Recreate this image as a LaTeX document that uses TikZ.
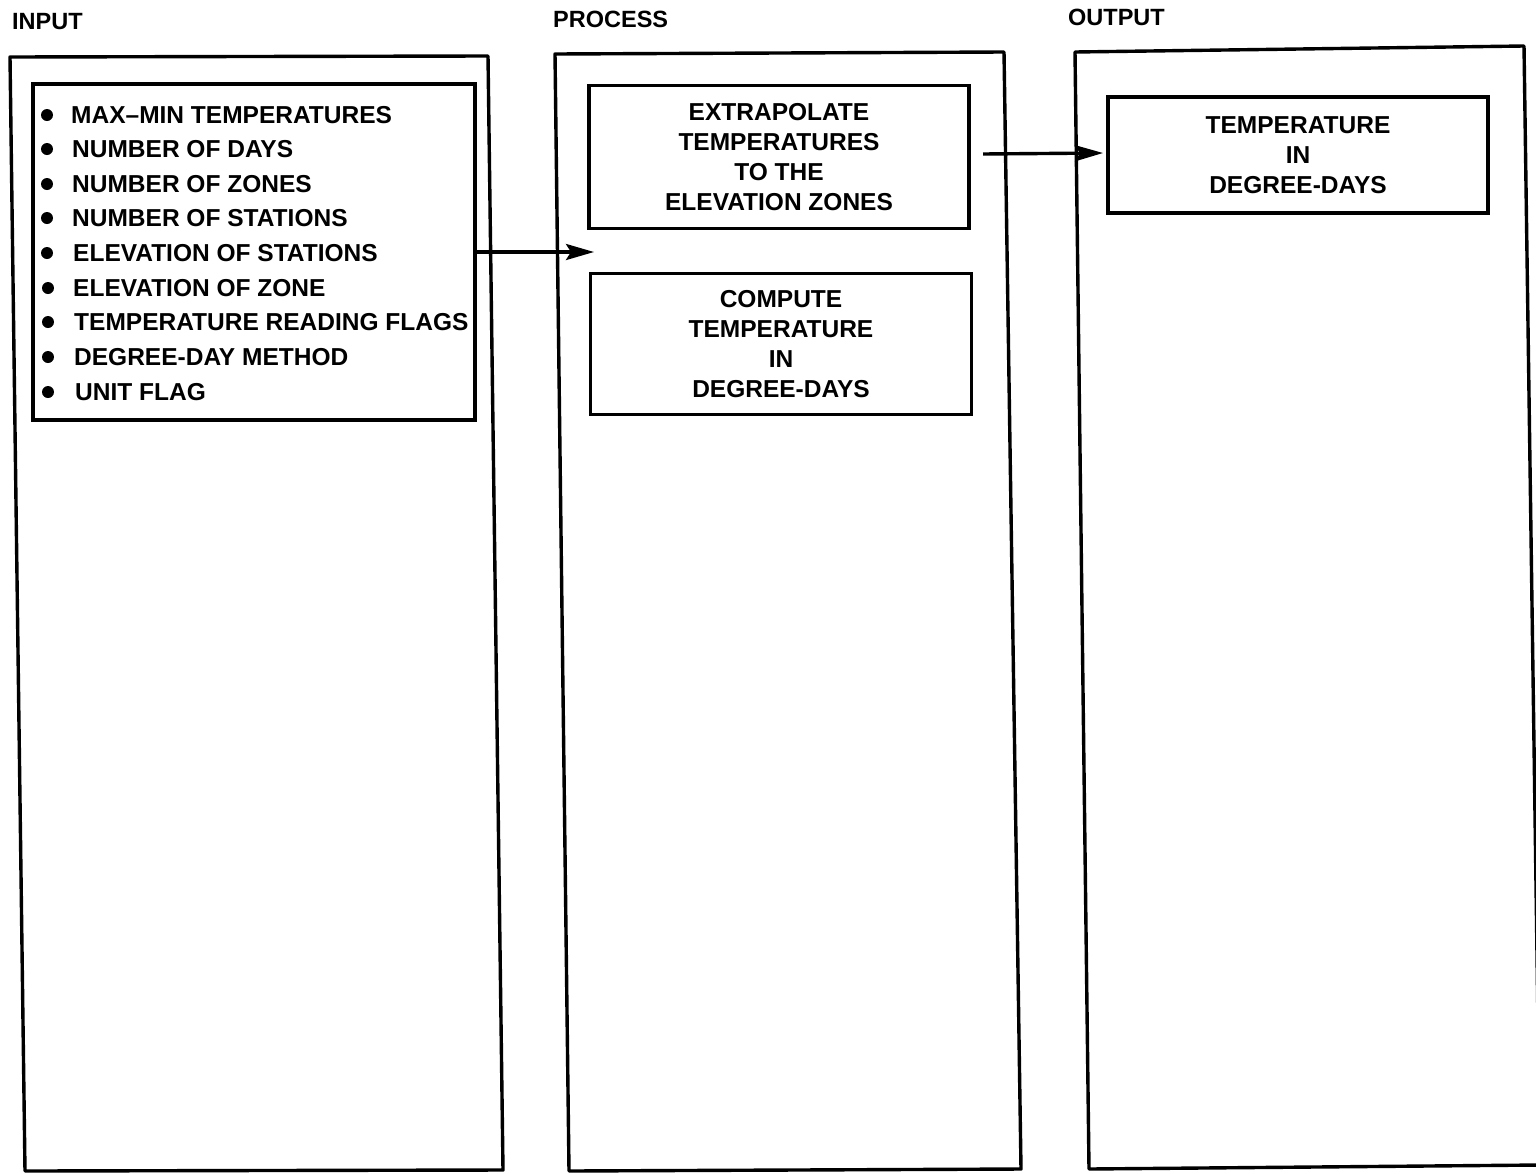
\documentclass[tikz,border=0pt]{standalone}
\usepackage{fontspec}
\setmainfont{Liberation Sans}
\usetikzlibrary{arrows.meta}
\begin{document}
\begin{tikzpicture}[x=1pt,y=-1pt,
  frame/.style={line width=3.4pt, line join=round},
  box/.style={draw, line width=3.4pt, inner sep=0pt, align=center,
    font=\bfseries\fontsize{24.5}{30}\selectfont},
  title/.style={font=\bfseries\fontsize{23.5}{28}\selectfont, inner sep=0pt, anchor=west},
  item/.style={font=\bfseries\fontsize{24.5}{30}\selectfont, inner sep=0pt, anchor=west},
  arr/.style={line width=3.4pt, -{Stealth[length=28pt,width=16pt,inset=5pt]}}]
\useasboundingbox (0,0) rectangle (1536,1173);

% titles
\node[title] (tin) at (12,22) {INPUT};
\node[title] (tpr) at (553,19) {PROCESS};
\node[title] (tou) at (1068,17) {OUTPUT};

% columns
\draw[frame] (10,57) -- (488,56) -- (503,1170) -- (25,1171) -- cycle;
\draw[frame] (555,54) -- (1004,52) -- (1021,1169) -- (569,1171) -- cycle;
\draw[frame] (1075,52) -- (1524,46) -- (1540,1165) -- (1089,1169) -- cycle;

% input list box
\node[box, minimum width=442pt, minimum height=336pt] (lst) at (254,252) {};
\foreach \yy/\xx/\bx/\t in {
  115/71/47/MAX--MIN TEMPERATURES,
  149/72/47/NUMBER OF DAYS,
  184/72/47/NUMBER OF ZONES,
  218/72/47/NUMBER OF STATIONS,
  253/73/47/ELEVATION OF STATIONS,
  288/73/48/ELEVATION OF ZONE,
  322/74/48/TEMPERATURE READING FLAGS,
  357/74/48/DEGREE-DAY METHOD,
  392/75/48/UNIT FLAG}{
  \fill (\bx,\yy) circle (6pt);
  \node[item] at (\xx,\yy) {\t};
}

% process boxes
\node[box, minimum width=380pt, minimum height=143pt] (ext) at (779,157)
  {EXTRAPOLATE\\TEMPERATURES\\TO THE\\ELEVATION ZONES};
\node[box, minimum width=381pt, minimum height=141pt] (cmp) at (781,344)
  {COMPUTE\\TEMPERATURE\\IN\\DEGREE-DAYS};

% output box
\node[box, minimum width=380pt, minimum height=116pt] (out) at (1298,155)
  {TEMPERATURE\\IN\\DEGREE-DAYS};

% connectors
\coordinate (a1e) at (594,252);
\coordinate (a2s) at (983,154);
\coordinate (a2e) at (1103,153);
\draw[arr] (lst.east) -- (a1e);
\draw[arr] (a2s) -- (a2e);
\end{tikzpicture}
\end{document}
